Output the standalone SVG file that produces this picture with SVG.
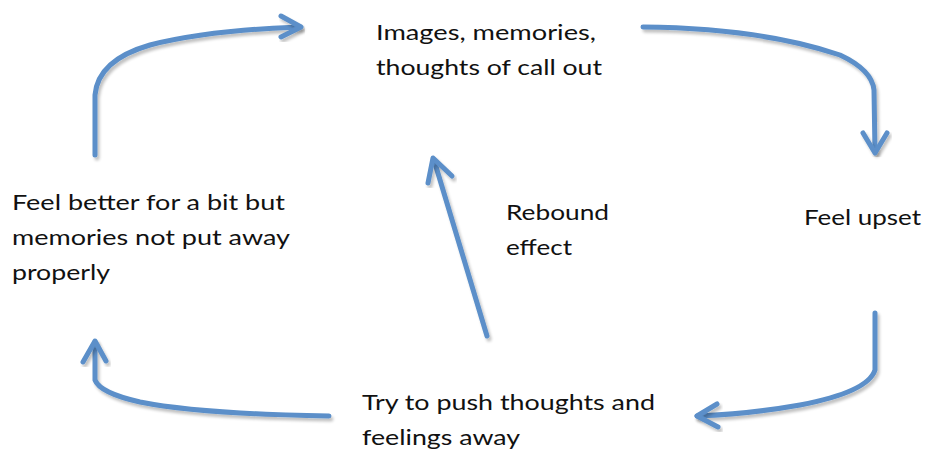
<svg xmlns="http://www.w3.org/2000/svg" width="927" height="451" viewBox="0 0 927 451">
<style>
text{font-family:Lato,"Open Sans","Liberation Sans",sans-serif;font-size:22px;fill:#111}
.c{fill:none;stroke:#5b8fc9;stroke-width:5;stroke-linecap:round;stroke-linejoin:round;filter:url(#sh)}
</style>
<defs>
<filter id="sh" x="-20%" y="-20%" width="140%" height="140%">
<feGaussianBlur in="SourceAlpha" stdDeviation="1.5"/>
<feOffset dx="2" dy="3" result="b"/>
<feComponentTransfer><feFuncA type="linear" slope="0.25"/></feComponentTransfer>
<feMerge><feMergeNode/><feMergeNode in="SourceGraphic"/></feMerge>
</filter>
</defs>
<rect width="927" height="451" fill="#fff"/>
<g id="connectors">
<path class="c" d="M95,155 L95,95 Q98,60 150,45 Q210,30 300,27"/>
<path class="c" d="M281,16 L301,27 L281,37"/>
<path class="c" d="M643,27 Q760,28 840,55 Q872,70 874,90 L875,152"/>
<path class="c" d="M863,133 L875,153 L887,133"/>
<path class="c" d="M875,313 L875,370 Q868,392 800,405 Q750,414 697,416"/>
<path class="c" d="M717,404 L697,416 L718,427"/>
<path class="c" d="M329,416 Q200,414 140,402 Q100,393 95,380 L95,342"/>
<path class="c" d="M83,362 L95,341 L106,361"/>
<path class="c" d="M487,336 L434,160"/>
<path class="c" d="M428,183 L433,158 L452,176"/>
</g>
<g id="node-images">
<text x="376" y="40" textLength="220" lengthAdjust="spacingAndGlyphs">Images, memories,</text>
<text x="376" y="75" textLength="226" lengthAdjust="spacingAndGlyphs">thoughts of call out</text>
</g>
<g id="node-upset">
<text x="804" y="225" textLength="117" lengthAdjust="spacingAndGlyphs">Feel upset</text>
</g>
<g id="node-push">
<text x="362" y="410" textLength="293" lengthAdjust="spacingAndGlyphs">Try to push thoughts and</text>
<text x="362" y="445" textLength="158" lengthAdjust="spacingAndGlyphs">feelings away</text>
</g>
<g id="node-better">
<text x="12" y="210" textLength="273" lengthAdjust="spacingAndGlyphs">Feel better for a bit but</text>
<text x="12" y="245" textLength="278" lengthAdjust="spacingAndGlyphs">memories not put away</text>
<text x="12" y="280" textLength="98" lengthAdjust="spacingAndGlyphs">properly</text>
</g>
<g id="label-rebound">
<text x="506" y="220" textLength="103" lengthAdjust="spacingAndGlyphs">Rebound</text>
<text x="506" y="255" textLength="66" lengthAdjust="spacingAndGlyphs">effect</text>
</g>
</svg>
